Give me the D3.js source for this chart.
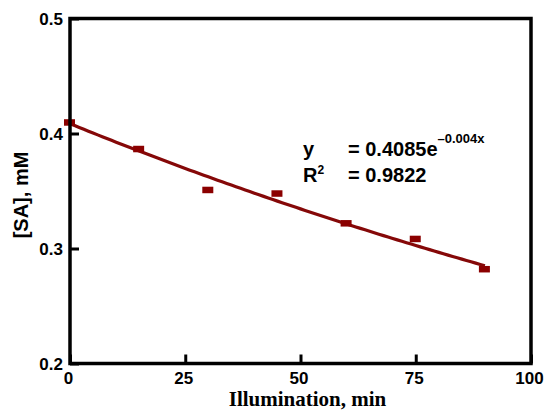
<!DOCTYPE html>
<html>
<head>
<meta charset="utf-8">
<script src="https://cdn.jsdelivr.net/npm/d3@7"></script>
<style>
  html, body { margin: 0; padding: 0; background: #fff; }
  svg { display: block; }
</style>
</head>
<body>
<script>
// ---- data ----
const illumination = [0, 15, 30, 45, 60, 75, 90];           // min
const saConc       = [0.4096, 0.3865, 0.3509, 0.3478, 0.3219, 0.3083, 0.282]; // mM
const fitCoef      = [0.4085, -0.004];                        // y = a e^(b x)
const fitR2        = 0.9822;
const fitRange     = [0, 90];
const xTicks       = [0, 25, 50, 75, 100];
const yTicks       = [0.2, 0.3, 0.4, 0.5];
const xTitle = "Illumination, min";
const yTitle = "[SA], mM";

const W = 544, H = 412;
const m = { left: 70, right: 13, top: 18.5, bottom: 48.5 };
const iw = W - m.left - m.right, ih = H - m.top - m.bottom;
const red = "#8b0000";

const svg = d3.select("body").append("svg").attr("width", W).attr("height", H);
const g = svg.append("g").attr("transform", `translate(${m.left},${m.top})`);

const x = d3.scaleLinear().domain([0, 100]).range([0, iw]);
const y = d3.scaleLinear().domain([0.2, 0.5]).range([ih, 0]);

// trend line
const fitX = d3.range(fitRange[0], fitRange[1] + 0.001, 1);
const line = d3.line().x(d => x(d)).y(d => y(fitCoef[0] * Math.exp(fitCoef[1] * d)));
g.append("path").datum(fitX).attr("d", line)
  .attr("fill", "none").attr("stroke", "#850808").attr("stroke-width", 3.2);

// markers
const mw = 11, mh = 6.5;
g.selectAll("rect.pt").data(illumination).join("rect")
  .attr("class", "pt")
  .attr("x", (d) => x(d) - mw / 2 - 0.5)
  .attr("y", (d, i) => y(saConc[i]) - mh / 2)
  .attr("width", mw).attr("height", mh)
  .attr("fill", red);

// axes (inner ticks)
const xAxis = d3.axisBottom(x).tickValues(xTicks).tickSize(-9).tickPadding(8.5).tickFormat(d3.format("d"));
const yAxis = d3.axisLeft(y).tickValues(yTicks).tickSize(-9).tickPadding(7).tickFormat(d3.format(".1f"));

const gx = g.append("g").attr("transform", `translate(0,${ih})`).call(xAxis);
const gy = g.append("g").call(yAxis);
[gx, gy].forEach(a => {
  a.select(".domain").remove();
  a.selectAll(".tick line").attr("stroke", "#000").attr("stroke-width", 3);
  a.selectAll(".tick text")
    .attr("fill", "#000")
    .style("font-family", "'Liberation Sans', Arial, sans-serif")
    .style("font-weight", "bold")
    .style("font-size", "17px");
});
gx.selectAll(".tick text").attr("dy", "0.71em").attr("x", -2);
gy.selectAll(".tick text").attr("dy", "0.36em");

// frame
g.append("rect").attr("x", 0).attr("y", 0).attr("width", iw).attr("height", ih)
  .attr("fill", "none").attr("stroke", "#000").attr("stroke-width", 3.5);

// axis titles
svg.append("text")
  .attr("x", m.left + iw / 2 + 7).attr("y", 406)
  .attr("text-anchor", "middle")
  .style("font-family", "'Liberation Serif', 'Times New Roman', serif")
  .style("font-weight", "bold").style("font-size", "21px")
  .text(xTitle);

svg.append("text")
  .attr("transform", `translate(28,${195}) rotate(-90)`)
  .attr("text-anchor", "middle")
  .style("font-family", "'Liberation Sans', Arial, sans-serif")
  .style("font-weight", "bold").style("font-size", "20px")
  .text(yTitle);

// equation annotation
const ann = svg.append("g")
  .style("font-family", "'Liberation Sans', Arial, sans-serif")
  .style("font-weight", "bold").style("font-size", "20px");
ann.append("text").attr("x", 303).attr("y", 156).text("y");
const t1 = ann.append("text").attr("x", 348).attr("y", 156);
t1.append("tspan").text("= " + fitCoef[0].toFixed(4) + "e");
t1.append("tspan").attr("dy", -13).style("font-size", "13px").text("\u2013" + Math.abs(fitCoef[1]).toFixed(3) + "x");
const t2 = ann.append("text").attr("x", 303).attr("y", 182);
t2.append("tspan").text("R");
t2.append("tspan").attr("dy", -8).style("font-size", "12px").text("2");
ann.append("text").attr("x", 348).attr("y", 182).text("= " + fitR2.toFixed(4));
</script>
</body>
</html>
